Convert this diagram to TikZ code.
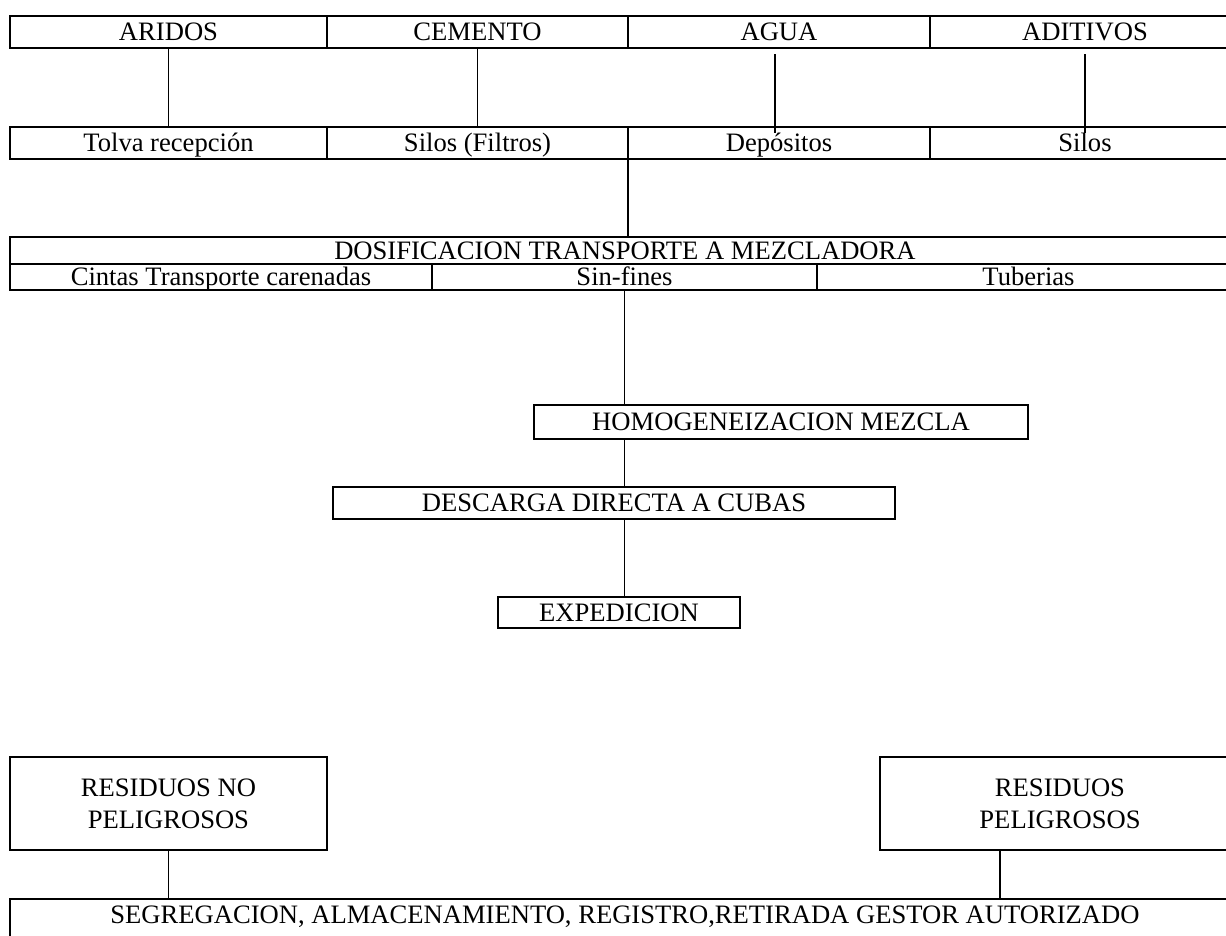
\documentclass[tikz,border=0pt]{standalone}
\usepackage{fontspec}
\setmainfont{Liberation Serif}
\begin{document}
\begin{tikzpicture}[x=1pt,y=-1pt,
  font=\fontsize{26.6}{32}\selectfont,
  cellbase/.style={draw, line width=2pt, inner sep=0pt, outer sep=0pt, anchor=north west, align=center},
  cell/.style={cellbase, text height=20pt, text depth=3pt},
  conn/.style={line width=1.7pt},
  thinconn/.style={line width=1.3pt}]
\useasboundingbox[fill=white] (0,0) rectangle (1226,935);
% row 1
\node[cell, minimum width=317pt, minimum height=32pt] (aridos)   at (10,16)  {ARIDOS};
\node[cell, minimum width=301pt, minimum height=32pt] (cemento)  at (327,16) {CEMENTO};
\node[cell, minimum width=302pt, minimum height=32pt] (agua)     at (628,16) {AGUA};
\node[cell, minimum width=310pt, minimum height=32pt] (aditivos) at (930,16) {ADITIVOS};
% row 2
\node[cell, minimum width=317pt, minimum height=32pt] (tolva)     at (10,127)  {Tolva recepción};
\node[cell, minimum width=301pt, minimum height=32pt] (silosf)    at (327,127) {Silos (Filtros)};
\node[cell, minimum width=302pt, minimum height=32pt] (depositos) at (628,127) {Depósitos};
\node[cell, minimum width=310pt, minimum height=32pt] (silos)     at (930,127) {Silos};
% dosificacion
\node[cell, minimum width=1230pt, minimum height=27pt] (dosif) at (10,237) {DOSIFICACION TRANSPORTE A MEZCLADORA};
\node[cell, minimum width=422pt, minimum height=26pt] (cintas)   at (10,264)  {Cintas Transporte carenadas};
\node[cell, minimum width=385pt, minimum height=26pt] (sinfines) at (432,264) {Sin-fines};
\node[cell, minimum width=423pt, minimum height=26pt] (tuberias) at (817,264) {Tuberias};
% process chain
\node[cell, minimum width=494pt, minimum height=34pt] (homog)      at (534,405) {HOMOGENEIZACION MEZCLA};
\node[cell, minimum width=562pt, minimum height=32pt] (descarga)   at (333,487) {DESCARGA DIRECTA A CUBAS};
\node[cell, minimum width=242pt, minimum height=31pt] (expedicion) at (498,597) {EXPEDICION};
% residuos
\node[cellbase, minimum width=317pt, minimum height=93pt] (resno) at (10,757)  {RESIDUOS NO\\PELIGROSOS};
\node[cellbase, minimum width=360pt, minimum height=93pt] (resp)  at (880,757) {RESIDUOS\\PELIGROSOS};
\node[cell, minimum width=1230pt, minimum height=40pt, text depth=12pt] (seg) at (10,899)
  {SEGREGACION, ALMACENAMIENTO, REGISTRO,RETIRADA GESTOR AUTORIZADO};
% connectors
\draw[conn] (aridos.south) -- (tolva.north);
\draw[conn] (cemento.south) -- (silosf.north);
\draw[thinconn] ([shift={(-4pt,-6pt)}]agua.south) -- ([shift={(-4pt,-6pt)}]depositos.north);
\draw[thinconn] ([yshift=-6pt]aditivos.south) -- ([yshift=-6pt]silos.north);
\draw[conn] (silosf.south east) -- (silosf.south east |- dosif.north);
\draw[conn] (sinfines.south) -- (sinfines.south |- homog.north);
\draw[conn] (homog.south -| sinfines.south) -- (descarga.north -| sinfines.south);
\draw[conn] (descarga.south -| sinfines.south) -- (expedicion.north -| sinfines.south);
\draw[conn] (resno.south) -- (resno.south |- seg.north);
\coordinate (rpx) at ([xshift=120pt]resp.south west);
\draw[conn] (rpx) -- (rpx |- seg.north);
\end{tikzpicture}
\end{document}
